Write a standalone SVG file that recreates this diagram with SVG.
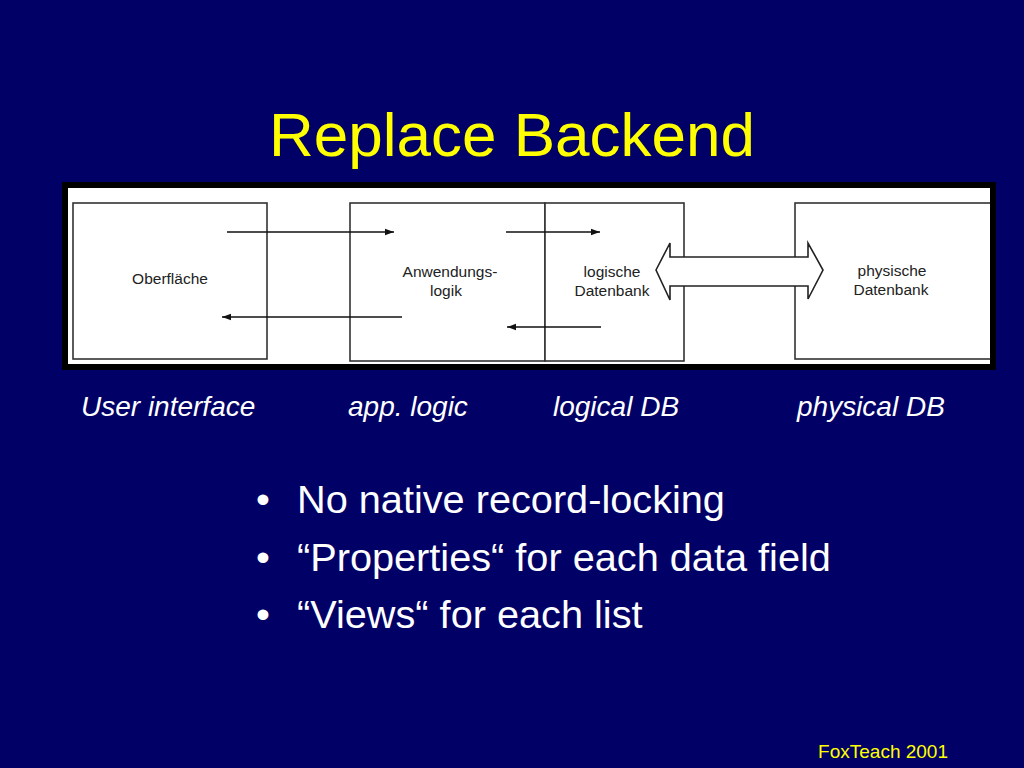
<svg xmlns="http://www.w3.org/2000/svg" width="1024" height="768" viewBox="0 0 1024 768">
<style>
.box{fill:#fff;stroke:#333;stroke-width:1.6}
.lbl{font-family:"Liberation Sans",Arial,sans-serif;font-size:15.5px;fill:#222;text-anchor:middle}
.cap{font-family:"Liberation Sans",Arial,sans-serif;font-size:28px;font-style:italic;fill:#fff}
.bul{font-family:"Liberation Sans",Arial,sans-serif;font-size:39.7px;fill:#fff}
.ln{stroke:#111;stroke-width:1.6;fill:none}
</style>
<defs>
<marker id="ah" markerWidth="10" markerHeight="8" refX="9" refY="4" orient="auto" markerUnits="userSpaceOnUse">
<path d="M0,0.8 L9,4 L0,7.2 Z" fill="#111"/>
</marker>
<clipPath id="clip"><rect x="68" y="188" width="922" height="176"/></clipPath>
</defs>
<rect width="1024" height="768" fill="#000066"/>
<text x="512" y="156" font-family="'Liberation Sans',Arial,sans-serif" font-size="62" fill="#ffff00" text-anchor="middle">Replace Backend</text>
<g id="frame">
<rect x="62" y="182" width="934" height="188" fill="#000"/>
<rect x="68" y="188" width="922" height="176" fill="#fff"/>
</g>
<g clip-path="url(#clip)">
<g id="oberflaeche">
<rect class="box" x="73" y="203" width="194" height="156"/>
<text class="lbl" x="170" y="284">Oberfläche</text>
</g>
<g id="anwendungslogik">
<rect class="box" x="350" y="203" width="195" height="158"/>
<text class="lbl" x="450" y="277">Anwendungs-</text>
<text class="lbl" x="446" y="296">logik</text>
</g>
<g id="logische-db">
<rect class="box" x="545" y="203" width="139" height="158"/>
<text class="lbl" x="612" y="277">logische</text>
<text class="lbl" x="612" y="296">Datenbank</text>
</g>
<g id="physische-db">
<rect class="box" x="795" y="203" width="210" height="156"/>
<text class="lbl" x="892" y="276">physische</text>
<text class="lbl" x="891" y="295">Datenbank</text>
</g>
<g id="connectors">
<line class="ln" x1="227" y1="232" x2="394" y2="232" marker-end="url(#ah)"/>
<line class="ln" x1="402" y1="317" x2="222" y2="317" marker-end="url(#ah)"/>
<line class="ln" x1="506" y1="232" x2="600" y2="232" marker-end="url(#ah)"/>
<line class="ln" x1="601" y1="327" x2="507" y2="327" marker-end="url(#ah)"/>
<path d="M656,270 L670,243 L670,257 L808,257 L808,243 L823,270 L808,299 L808,286 L670,286 L670,300 Z" fill="#fff" stroke="#222" stroke-width="1.6" stroke-linejoin="miter"/>
</g>
</g>
<g id="captions">
<text class="cap" x="81" y="416">User interface</text>
<text class="cap" x="348" y="416">app. logic</text>
<text class="cap" x="553" y="416">logical DB</text>
<text class="cap" x="797" y="416">physical DB</text>
</g>
<g id="bullets">
<text class="bul" x="256" y="513">•</text>
<text class="bul" x="297" y="513">No native record-locking</text>
<text class="bul" x="256" y="571">•</text>
<text class="bul" x="297" y="571">“Properties“ for each data field</text>
<text class="bul" x="256" y="628">•</text>
<text class="bul" x="297" y="628">“Views“ for each list</text>
</g>
<text x="948" y="758" font-family="'Liberation Sans',Arial,sans-serif" font-size="19" fill="#ffff00" text-anchor="end">FoxTeach 2001</text>
</svg>
